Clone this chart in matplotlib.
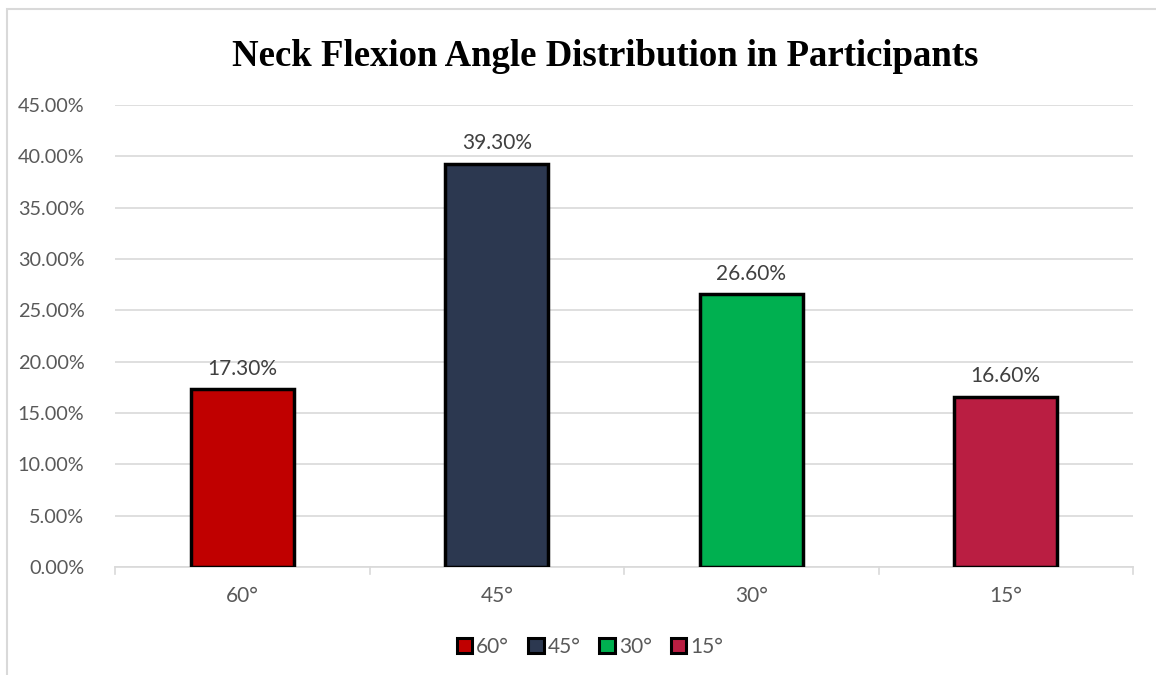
import numpy as np
import matplotlib.pyplot as plt
from matplotlib.patches import Rectangle

# chart values
categories = ['60°', '45°', '30°', '15°']
shares = [0.173, 0.393, 0.266, 0.166]
bar_colors = ['#C00000', '#2C3850', '#00B050', '#BA1E42']
yticks = np.arange(0, 0.451, 0.05)

label_font = ['Lato', 'DejaVu Sans']
grey = '#595959'

fig = plt.figure(figsize=(11.56, 6.75), dpi=100)
ax = fig.add_axes([115 / 1156, 108 / 675, 1018 / 1156, 462 / 675])

# outer chart frame (partly cut off like the reference)
fig.patches.append(Rectangle((7 / 1156, -0.1), 1.2, 1 - 9 / 675 + 0.1,
                             transform=fig.transFigure, fill=False,
                             edgecolor='#D9D9D9', linewidth=1.5))

x = np.arange(len(categories))
ax.bar(x, shares, width=0.405, color=bar_colors, edgecolor='black',
       linewidth=2.5, zorder=3)

for xi, v in zip(x, shares):
    ax.text(xi, v + 0.010, '%.2f%%' % (v * 100), ha='center', va='bottom',
            fontsize=15, color='#404040', family=label_font)

ax.set_xlim(-0.5, len(categories) - 0.5)
ax.set_ylim(0, 0.45)
ax.set_yticks(yticks)
ax.set_yticklabels(['%.2f%%' % (t * 100) for t in yticks])
ax.set_xticks(x)
ax.set_xticklabels(categories)
ax.yaxis.grid(True, color='#D9D9D9', linewidth=1.2, zorder=0)
ax.set_axisbelow(True)

for s in ['top', 'right', 'left']:
    ax.spines[s].set_visible(False)
ax.spines['bottom'].set_color('#D9D9D9')
ax.spines['bottom'].set_linewidth(1.2)

ax.tick_params(axis='y', length=0, pad=22, labelsize=14.3, labelcolor=grey)
ax.tick_params(axis='x', length=0, pad=14, labelsize=15, labelcolor=grey)
for lab in ax.get_xticklabels() + ax.get_yticklabels():
    lab.set_family(label_font)

# category boundary tick marks
for b in np.arange(-0.5, len(categories), 1.0):
    ax.plot([b, b], [0, -0.007], color='#D9D9D9', linewidth=1.2, clip_on=False)

fig.text(605 / 1156, 1 - 56 / 675, 'Neck Flexion Angle Distribution in Participants',
         ha='center', va='center', fontsize=26.5, fontweight='bold',
         family='Liberation Serif', color='black')

handles = [Rectangle((0, 0), 1, 1, facecolor=c, edgecolor='black', linewidth=2.2)
           for c in bar_colors]
leg = fig.legend(handles, categories, loc='center', bbox_to_anchor=(590 / 1156, 1 - 647 / 675),
                 ncol=4, frameon=False, handlelength=0.75, handleheight=0.75,
                 handletextpad=0.2, columnspacing=0.9,
                 prop={'family': label_font, 'size': 15})
for t in leg.get_texts():
    t.set_color(grey)

fig.savefig('out.png', dpi=100)
